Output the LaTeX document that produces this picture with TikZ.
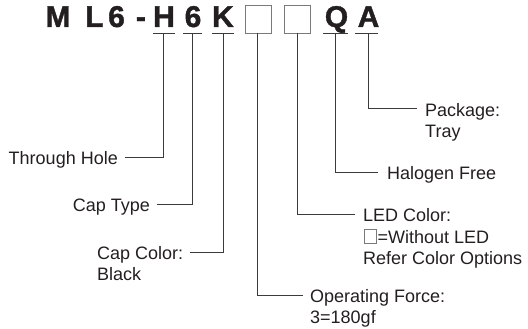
\documentclass[tikz,border=0pt]{standalone}
\usepackage{fontspec}
\setmainfont{Liberation Sans}
\newfontfamily\titlefont{Liberation Sans}[BoldFont={Liberation Sans Bold},BoldFeatures={FakeBold=1.3}]
\definecolor{ink}{HTML}{231F20}
\definecolor{wire}{HTML}{3C3A3B}
\definecolor{boxgray}{HTML}{7A7A7A}
\begin{document}
\begin{tikzpicture}[x=1pt,y=-1pt,
  code/.style={inner sep=0pt,anchor=base,text=ink,font=\titlefont\fontsize{30}{30}\selectfont\bfseries},
  lbl/.style={inner sep=0pt,text=ink,font=\fontsize{18}{21}\selectfont},
  conn/.style={draw=wire,line width=1pt},
  uline/.style={draw=wire,line width=1pt},
  slot/.style={draw=boxgray,line width=0.9pt}]
\useasboundingbox (0,0) rectangle (528,329);
% title characters
\node[code] (cM) at (58,27) {M};
\node[code] (cL) at (94.5,27) {L};
\node[code] (c6a) at (116.5,27) {6};
\node[code] (cdash) at (141,27) {-};
\node[code] (cH) at (164,27) {H};
\node[code] (c6b) at (193,27) {6};
\node[code] (cK) at (223,27) {K};
\node[code] (cQ) at (336.5,27) {Q};
\node[code] (cA) at (368.5,27) {A};
% slot boxes
\draw[slot] (245.5,5.5) rectangle (271.5,33);
\draw[slot] (284.5,5.5) rectangle (310.5,33);
\coordinate (b1) at (257.5,33);
\coordinate (b2) at (297,33);
% underlines
\draw[uline] (153,34) -- (174.5,34);
\draw[uline] (183,34) -- (202,34);
\draw[uline] (211.5,34) -- (234,34);
\draw[uline] (323,34) -- (347.5,34);
\draw[uline] (355,34) -- (378,34);
\coordinate (uH) at (163.5,34);
\coordinate (u6) at (192.5,34);
\coordinate (uK) at (223,34);
\coordinate (uQ) at (335,34);
\coordinate (uA) at (368,34);
% line ends
\coordinate (eTH) at (125,157);
\coordinate (eCT) at (157,204);
\coordinate (eCC) at (190,252);
\coordinate (eOF) at (303,295);
\coordinate (eLED) at (355,214);
\coordinate (eHF) at (378,172);
\coordinate (ePK) at (417,109);
% labels
\node[lbl,anchor=base east] (tTH) at (118,164.5) {Through Hole};
\node[lbl,anchor=base east] (tCT) at (150,211.5) {Cap Type};
\node[lbl,anchor=base west] (tCC) at (97,259.5) {Cap Color:};
\node[lbl,anchor=base west] (tCC2) at (97,280) {Black};
\node[lbl,anchor=base west] (tOF) at (310,302) {Operating Force:};
\node[lbl,anchor=base west] (tOF2) at (310,323) {3=180gf};
\node[lbl,anchor=base west] (tLED) at (363,221.5) {LED Color:};
\draw[slot,line width=0.7pt] (364,229) rectangle (376.5,243);
\node[lbl,anchor=base west] (tLED2) at (377.5,243) {=Without LED};
\node[lbl,anchor=base west] (tLED3) at (363,264.5) {Refer Color Options};
\node[lbl,anchor=base west] (tHF) at (387,179.5) {Halogen Free};
\node[lbl,anchor=base west] (tPK) at (425,116.5) {Package:};
\node[lbl,anchor=base west] (tPK2) at (425,137) {Tray};
% connectors
\draw[conn] (uH) |- (eTH);
\draw[conn] (u6) |- (eCT);
\draw[conn] (uK) |- (eCC);
\draw[conn] (b1) |- (eOF);
\draw[conn] (b2) |- (eLED);
\draw[conn] (uQ) |- (eHF);
\draw[conn] (uA) |- (ePK);
\end{tikzpicture}
\end{document}
